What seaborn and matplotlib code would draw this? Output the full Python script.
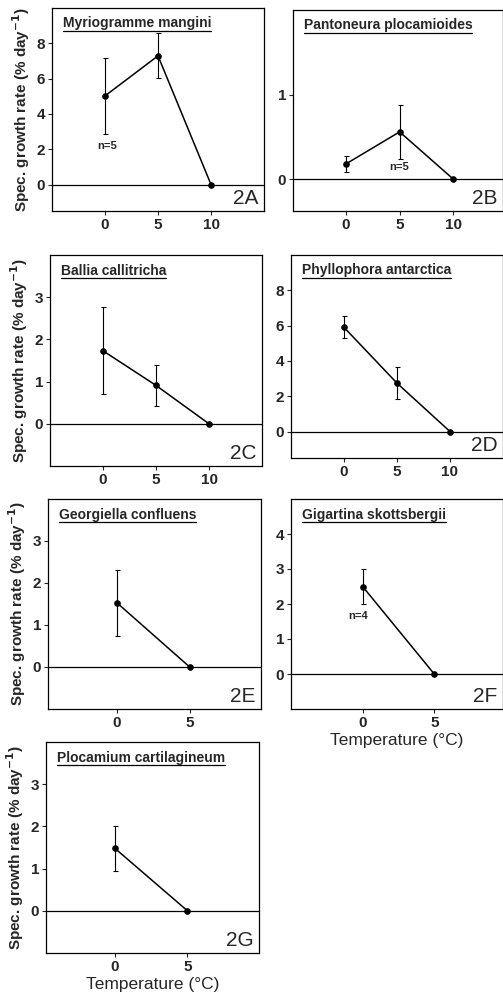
import matplotlib
matplotlib.use("Agg")
import matplotlib.pyplot as plt
import seaborn as sns
import pandas as pd
from matplotlib.lines import Line2D

sns.set_style("ticks")
plt.rcParams['font.family'] = ['Liberation Sans', 'DejaVu Sans']

# data (temperature in degC, growth rate, +/- error)
species = ["Myriogramme mangini", "Pantoneura plocamioides", "Ballia callitricha",
           "Phyllophora antarctica", "Georgiella confluens", "Gigartina skottsbergii",
           "Plocamium cartilagineum"]
panel_labels = ["2A", "2B", "2C", "2D", "2E", "2F", "2G"]
temps_a = [0, 5, 10]
rate_a = [5.02, 7.29, 0.0]
err_a = [2.15, 1.28, 0.0]
temps_b = [0, 5, 10]
rate_b = [0.18, 0.56, 0.0]
err_b = [0.10, 0.32, 0.0]
temps_c = [0, 5, 10]
rate_c = [1.73, 0.91, 0.0]
err_c = [1.03, 0.49, 0.0]
temps_d = [0, 5, 10]
rate_d = [5.9, 2.74, 0.0]
err_d = [0.63, 0.92, 0.0]
temps_e = [0, 5]
rate_e = [1.53, 0.0]
err_e = [0.78, 0.0]
temps_f = [0, 5]
rate_f = [2.5, 0.0]
err_f = [0.5, 0.0]
temps_g = [0, 5]
rate_g = [1.48, 0.0]
err_g = [0.53, 0.0]

# n annotations: (panel index, x, y, text)
n_notes = [(0, 0.2, 2.2, "n=5"), (1, 5.0, 0.14, "n=5"), (5, -0.3, 1.65, "n=4")]

W, H = 503, 1002
# axes boxes in pixels: left, right, top, bottom
boxes = [(52, 264, 8, 211), (293, 503, 10, 211),
         (50, 262, 255, 466), (291, 503, 255, 458),
         (48, 261, 499, 709), (291, 503, 499, 709),
         (46, 259, 742, 953)]
xlims = [(-5, 15), (-4.9, 14.6), (-5, 15), (-5, 15), (-4.73, 9.9), (-5, 9.8), (-4.75, 9.93)]
ylims = [(-1.5, 10), (-0.375, 2.0), (-1, 4), (-1.5, 10), (-1, 4), (-1, 5), (-1, 4)]
yticks = [[0, 2, 4, 6, 8], [0, 1], [0, 1, 2, 3], [0, 2, 4, 6, 8], [0, 1, 2, 3],
          [0, 1, 2, 3, 4], [0, 1, 2, 3]]
xticks = [[0, 5, 10]] * 4 + [[0, 5]] * 3

series = [(temps_a, rate_a, err_a), (temps_b, rate_b, err_b), (temps_c, rate_c, err_c),
          (temps_d, rate_d, err_d), (temps_e, rate_e, err_e), (temps_f, rate_f, err_f),
          (temps_g, rate_g, err_g)]

fig = plt.figure(figsize=(W / 100, H / 100), dpi=100, facecolor='white')
axes = []
for i, (l, r, t, b) in enumerate(boxes):
    ax = fig.add_axes([l / W, 1 - b / H, (r - l) / W, (b - t) / H])
    axes.append(ax)
    x, y, e = series[i]
    df = pd.DataFrame({"temp": x, "rate": y})
    ax.axhline(0, color='black', lw=0.9, zorder=1)
    ax.errorbar(x, y, yerr=e, fmt='none', ecolor='black', elinewidth=0.8,
                capsize=1.8, capthick=0.8, zorder=2)
    sns.lineplot(data=df, x="temp", y="rate", ax=ax, color='black', lw=1.1,
                 marker='o', markersize=4, markeredgecolor='black', zorder=3)
    ax.set_xlim(*xlims[i])
    ax.set_ylim(*ylims[i])
    ax.set_xticks(xticks[i])
    ax.set_yticks(yticks[i])
    ax.tick_params(labelsize=11, width=0.8, length=3, direction='out', pad=2)
    for lab in ax.get_xticklabels() + ax.get_yticklabels():
        lab.set_fontweight('bold')
    for s in ax.spines.values():
        s.set_linewidth(0.9)
        s.set_color('black')
    ax.set_xlabel("")
    ax.set_ylabel("")
    ax.text(0.975, 0.015, panel_labels[i], transform=ax.transAxes, ha='right',
            va='bottom', fontsize=15)
    ax.text(0.05, 0.925, species[i], transform=ax.transAxes, ha='left',
            va='center', fontsize=10, fontweight='bold')

for idx, nx, ny, txt in n_notes:
    axes[idx].text(nx, ny, txt, ha='center', va='center', fontsize=8, fontweight='bold')

ylab = "Spec. growth rate (% day$^{\\mathbf{-1}}$)"
for idx in [0, 2, 4, 6]:
    axes[idx].set_ylabel(ylab, fontsize=11, fontweight='bold', labelpad=3)
for idx in [5, 6]:
    axes[idx].set_xlabel("Temperature (°C)", fontsize=12.5, labelpad=2)

# underline the species names
fig.canvas.draw()
rend = fig.canvas.get_renderer()
for ax in axes:
    for t in ax.texts:
        if t.get_text() in species:
            bb = t.get_window_extent(rend)
            yy = (bb.y0 - 0.5) / fig.bbox.height
            fig.add_artist(Line2D([bb.x0 / fig.bbox.width, bb.x1 / fig.bbox.width],
                                  [yy, yy], color='black', lw=0.9))

plt.savefig("out.png", dpi=100, facecolor='white')
